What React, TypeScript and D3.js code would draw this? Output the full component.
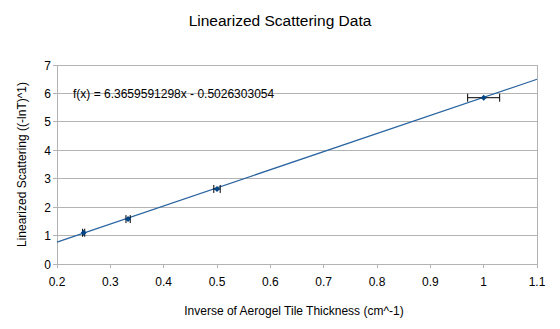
import React from "react";
import * as d3 from "d3";

const xValues = [0.25, 0.3333, 0.5, 1.0];
const yValues = [1.1, 1.58, 2.64, 5.85];
const xErrors = [0.002, 0.004, 0.006, 0.03];
const xTicks = [0.2, 0.3, 0.4, 0.5, 0.6, 0.7, 0.8, 0.9, 1, 1.1];
const yTicks = [0, 1, 2, 3, 4, 5, 6, 7];
const slope = 6.3659591298;
const intercept = -0.5026303054;
const equationLabel = "f(x) = 6.3659591298x - 0.5026303054";
const title = "Linearized Scattering Data";
const xTitle = "Inverse of Aerogel Tile Thickness (cm^-1)";
const yTitle = "Linearized Scattering ((-lnT)^1)";

const W = 560, H = 329;
const L = 57, R = 537, T = 65, B = 264;
const font = "'Liberation Sans', Arial, sans-serif";

export default function App() {
  const x = d3.scaleLinear().domain([0.2, 1.1]).range([L, R]);
  const y = d3.scaleLinear().domain([0, 7]).range([B, T]);
  const line = d3.line<number>().x((d) => x(d)).y((d) => y(slope * d + intercept));
  const grid = "#b3b3b3";
  const blue = "#004586";
  const lineBlue = "#2a64a0";
  return (
    <svg width={W} height={H} style={{ position: "absolute", left: 0, top: 0 }} fontFamily={font}>
      <rect x={0} y={0} width={W} height={H} fill="#fff" />
      <text x={280} y={26} textAnchor="middle" fontSize={15.5}>{title}</text>
      {yTicks.map((t) => (
        <g key={t}>
          <line x1={L - 4} x2={R} y1={y(t)} y2={y(t)} stroke={grid} strokeWidth={1} shapeRendering="crispEdges" />
          <text x={L - 6} y={y(t) + 4.5} textAnchor="end" fontSize={12}>{t}</text>
        </g>
      ))}
      <line x1={L} x2={L} y1={T} y2={B + 4} stroke={grid} shapeRendering="crispEdges" />
      <line x1={R} x2={R} y1={T} y2={B + 4} stroke={grid} shapeRendering="crispEdges" />
      {xTicks.map((t) => (
        <g key={t}>
          <line x1={x(t)} x2={x(t)} y1={B} y2={B + 4} stroke={grid} shapeRendering="crispEdges" />
          <text x={x(t)} y={B + 22} textAnchor="middle" fontSize={12}>{t}</text>
        </g>
      ))}
      <path d={line([0.2, 1.1]) || ""} fill="none" stroke={lineBlue} strokeWidth={1.2} />
      {xValues.map((v, i) => {
        const cx = x(v), cy = y(yValues[i]);
        const x1 = x(v - xErrors[i]), x2 = x(v + xErrors[i]);
        return (
          <g key={i}>
            <line x1={x1} x2={x2} y1={cy} y2={cy} stroke="#000" strokeWidth={1} />
            <line x1={x1} x2={x1} y1={cy - 4} y2={cy + 4} stroke="#000" strokeWidth={1} />
            <line x1={x2} x2={x2} y1={cy - 4} y2={cy + 4} stroke="#000" strokeWidth={1} />
            <path d={`M${cx},${cy - 3}L${cx + 3},${cy}L${cx},${cy + 3}L${cx - 3},${cy}Z`} fill={blue} />
          </g>
        );
      })}
      <text x={73} y={98} fontSize={12}>{equationLabel}</text>
      <text x={294} y={315} textAnchor="middle" fontSize={12}>{xTitle}</text>
      <text transform={`translate(26,${(T + B) / 2}) rotate(-90)`} textAnchor="middle" fontSize={12}>{yTitle}</text>
    </svg>
  );
}
